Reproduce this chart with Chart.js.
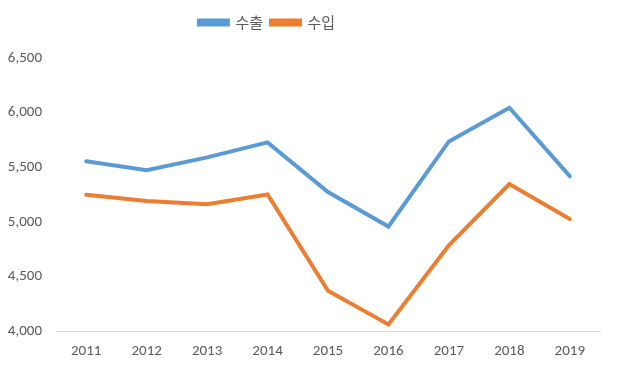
<!DOCTYPE html>
<html><head><meta charset="utf-8">
<script src="https://cdn.jsdelivr.net/npm/chart.js@4"></script>
<style>html,body{margin:0;padding:0;background:#fff}#w{width:618px;height:367px}</style>
</head><body><div id="w"><canvas id="c"></canvas></div>
<script>
const categories = ['2011','2012','2013','2014','2015','2016','2017','2018','2019'];
const exportValues = [5555, 5473, 5590, 5727, 5273, 4957, 5736, 6045, 5418];
const importValues = [5248, 5190, 5160, 5250, 4368, 4060, 4785, 5345, 5025];
const seriesNames = ['수출', '수입'];
const yTicks = [4000, 4500, 5000, 5500, 6000, 6500];

const tickFont = {family: "Carlito, 'Open Sans', 'Noto Sans', sans-serif", size: 15};
const legendSpace = {
  id: 'legendSpace',
  beforeInit(chart) {
    const fit = chart.legend.fit;
    chart.legend.fit = function () { fit.call(this); this.height += 18; };
  },
  afterLayout(chart) {
    chart.legend.left -= 33;
    chart.legend.right -= 33;
  }
};
new Chart(document.getElementById('c'), {
  type: 'line',
  plugins: [legendSpace],
  data: {
    labels: categories,
    datasets: [
      {label: seriesNames[0], data: exportValues, borderColor: '#5b9bd5', backgroundColor: '#5b9bd5', borderWidth: 4, pointRadius: 0, tension: 0, borderCapStyle: 'round'},
      {label: seriesNames[1], data: importValues, borderColor: '#ed7d31', backgroundColor: '#ed7d31', borderWidth: 4, pointRadius: 0, tension: 0, borderCapStyle: 'round'}
    ]
  },
  options: {
    responsive: true, maintainAspectRatio: false, animation: false,
    layout: {padding: {left: 0, right: 18, top: 7, bottom: 5}},
    plugins: {
      tooltip: {enabled: false},
      legend: {position: 'top', labels: {boxWidth: 29, boxHeight: 4, padding: 8, color: '#595959', font: {family: "'Noto Sans CJK KR', sans-serif", size: 15}}}
    },
    scales: {
      x: {
        offset: true,
        afterFit: s => { s.height = 31; },
        grid: {display: false, drawTicks: false},
        border: {display: true, color: '#d9d9d9', width: 1},
        ticks: {color: '#595959', font: tickFont, padding: 11, maxRotation: 0}
      },
      y: {
        min: 4000, max: 6500,
        afterFit: s => { s.width = 56; },
        afterBuildTicks: s => { s.ticks = yTicks.map(v => ({value: v})); },
        grid: {display: false, drawTicks: false},
        border: {display: false},
        ticks: {color: '#595959', font: tickFont, padding: 14, callback: v => v.toLocaleString('en-US')}
      }
    }
  }
});
</script></body></html>
